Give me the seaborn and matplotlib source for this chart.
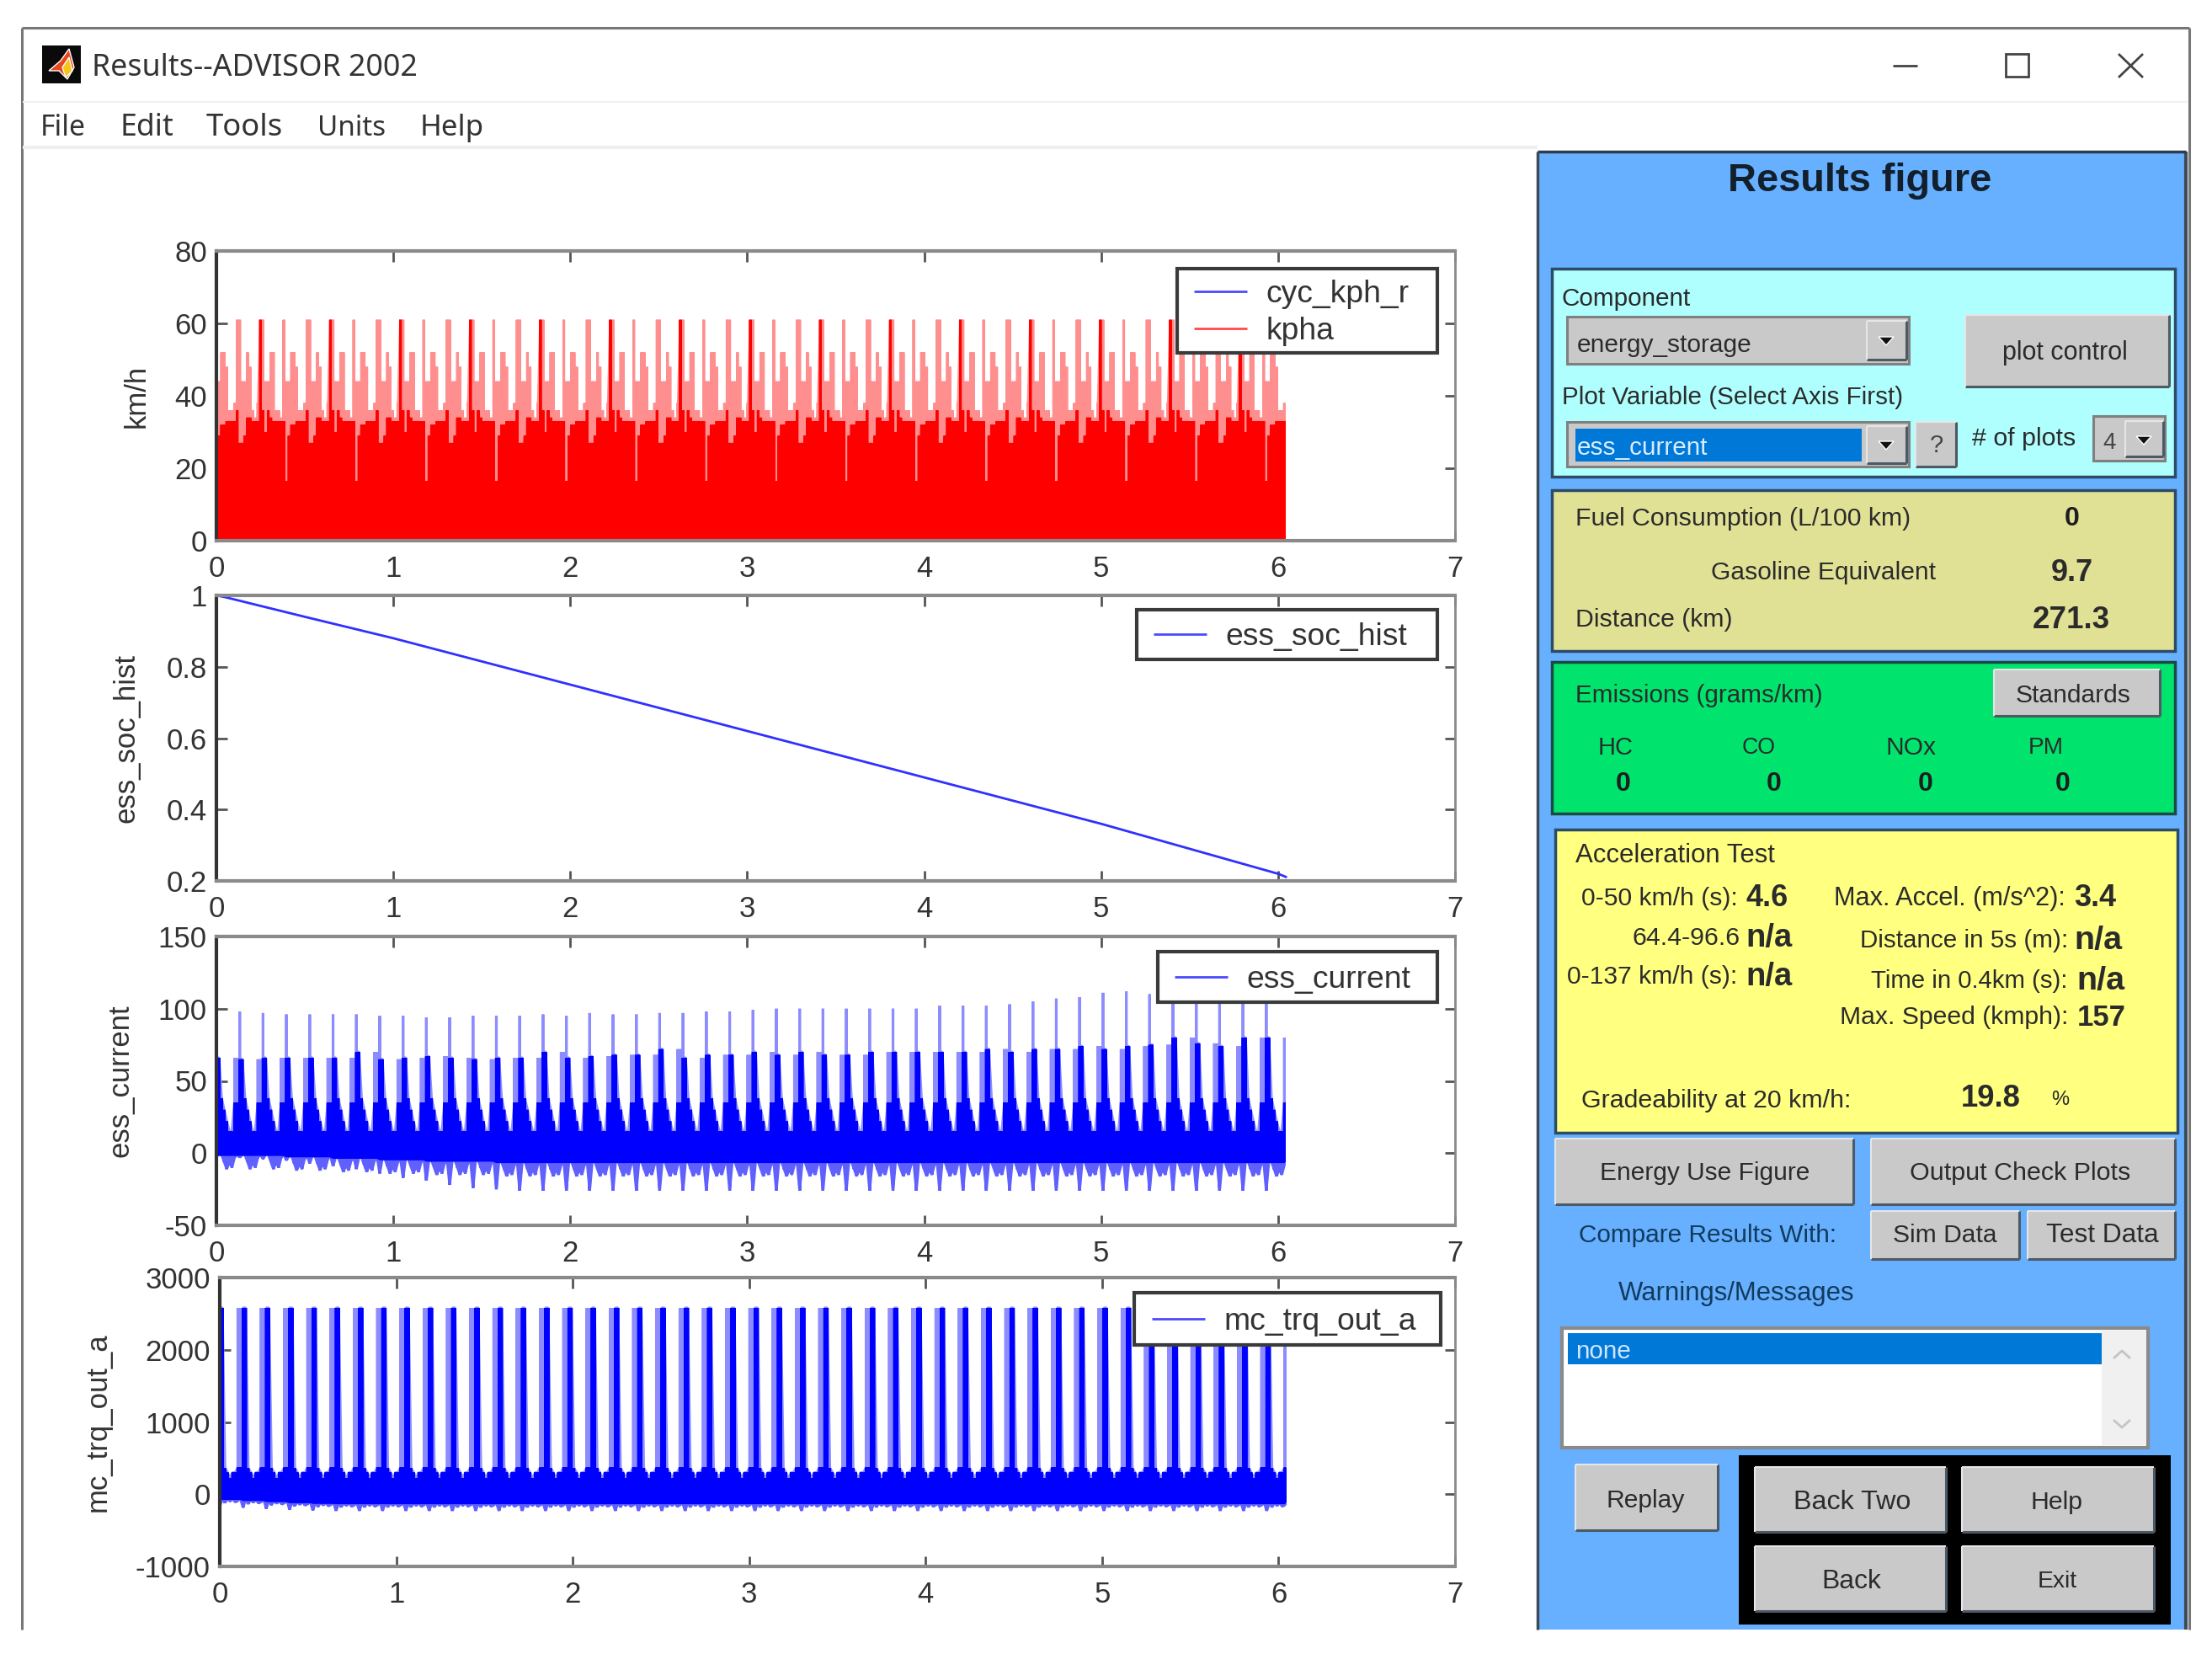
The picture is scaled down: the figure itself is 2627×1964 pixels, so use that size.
import numpy as np
import pandas as pd
import matplotlib
matplotlib.use("Agg")
import matplotlib.pyplot as plt
from matplotlib.patches import Rectangle, Polygon
import seaborn as sns

# ---------- data ----------
x_ticks = [0, 1, 2, 3, 4, 5, 6, 7]
BIN = 0.01465          # width of one drawn sample (hours)
N_BINS = 413           # samples up to the end of the run

# speed: the drive pattern repeats every 27 samples
kph_solid = [16.4, 29, 32, 32, 33, 33, 33, 33, 36,
             27, 27, 29, 34, 34, 33, 33, 33, 61,
             36, 30, 36, 34, 33, 33, 33, 33, 33]
kph_peak = [44, 44, 52, 52, 48, 36, 36, 38, 61,
            61, 44, 44, 52, 48, 36, 34, 38, 61,
            61, 44, 44, 52, 52, 36, 36, 34, 61]

# state of charge
soc_t = [0, 0.05, 0.5, 1, 2, 3, 4, 5, 5.5, 6, 6.05]
soc_v = [1.0, 0.995, 0.94, 0.88, 0.75, 0.62, 0.49, 0.36, 0.29, 0.22, 0.21]

# battery current per cycle (47 cycles of 9 samples)
current_peak = [100, 98, 97, 96, 96, 96, 96, 95, 95, 94, 94, 95, 95, 95, 96, 95,
                97, 96, 96, 97, 97, 98, 98, 99, 100, 100, 100, 100, 100, 100, 100,
                102, 102, 102, 103, 105, 107, 108, 111, 112, 110, 110, 110, 110,
                110, 110, 77]
current_shoulder = [66, 65, 66, 66, 66, 66, 70, 65, 66, 67, 66, 65, 66, 66, 70, 66,
                    67, 68, 68, 72, 66, 68, 68, 70, 68, 70, 68, 68, 70, 70, 70,
                    70, 70, 72, 70, 72, 72, 74, 72, 74, 75, 80, 76, 74, 80, 80, 78]
current_floor = [-1, -1, -1, -2, -2, -3, -3, -4, -4, -5, -5, -5, -6, -6, -6, -6,
                 -6, -6, -6, -6, -6, -6, -6, -6, -6, -6, -6, -6, -6, -6, -6, -6,
                 -6, -6, -6, -6, -6, -6, -6, -6, -6, -6, -6, -6, -6, -6, -6]
current_dip = [-2, -3, -4, -5, -7, -9, -11, -14, -17, -19, -22, -24, -25, -26, -26, -26,
               -26, -26, -26, -26, -26, -26, -26, -26, -26, -26, -26, -26, -26, -26, -26,
               -26, -26, -26, -26, -26, -26, -26, -26, -26, -26, -26, -26, -26, -26, -26, -26]
current_tail = [38, 30, 22, 15, 15]     # samples 2-6 of each cycle
current_side = [35, 35]                 # samples 7-8, solid part
current_side_dip = [0, 0, 0, -5, -10, -5, -9, -2, 0]

# motor torque: 9-sample cycle
trq_solid = [2580, 2580, 360, 300, 220, 300, 300, 370, 370]
trq_light = [2580, 2580, 360, 300, 220, 300, 300, 2580, 2580]
trq_floor = [-60, -75, -90, -105, -115] + [-120] * 42
trq_extra_dip = [-110, 0, -60, 0, -40, 0, -50, -30, 0]

# ---------- panel texts ----------
title_menu = ["File", "Edit", "Tools", "Units", "Help"]
emission_names = ["HC", "CO", "NOx", "PM"]
emission_vals = ["0", "0", "0", "0"]

W, H = 2627, 1964
RED, PINK = "#ff0000", "#ff8f8f"
BLUE, LBLUE = "#0000ff", "#8c8cff"
DIP = "#6060ff"
EDGE = "#3a3a3a"
YSHIFT = 3

sns.set_style("white")
plt.rcParams["font.family"] = ["Liberation Sans", "DejaVu Sans"]
fig = plt.figure(figsize=(W / 100, H / 100), dpi=100, facecolor="white")
renderer = fig.canvas.get_renderer()

# ---------- window chrome (pixel coordinates) ----------
bg = fig.add_axes([0, 0, 1, 1], zorder=0)
bg.set_xlim(0, W)
bg.set_ylim(H, 0)
bg.axis("off")


def rect(x0, y0, x1, y1, fc, ec="none", lw=0, z=1):
    bg.add_patch(Rectangle((x0, y0), x1 - x0, y1 - y0, fc=fc, ec=ec, lw=lw, zorder=z))


def line(xs, ys, c, lw, z=2):
    bg.plot(xs, ys, color=c, lw=lw, zorder=z, solid_capstyle="butt")


def put(x0, x1, y, s, bold=False, color="#2b2b2b", family="Liberation Sans", z=5):
    """Text fitted between two x positions."""
    t = bg.text(x0, y + YSHIFT, s, ha="left", va="center", fontsize=20, color=color,
                family=family, fontweight="bold" if bold else "normal", zorder=z)
    w = t.get_window_extent(renderer).width
    t.set_fontsize(20 * (x1 - x0) / w)
    return t


def mid(cx, y, s, size=21, bold=False, color="#1e1e1e"):
    bg.text(cx, y + YSHIFT, s, ha="center", va="center", fontsize=size, color=color,
            fontweight="bold" if bold else "normal", zorder=5)


def button(x0, y0, x1, y1):
    rect(x0, y0, x1, y1, "#c9c9c9", z=3)
    line([x0, x1], [y1, y1], "#4d5a66", 2.2, z=4)
    line([x1, x1], [y0, y1], "#4d5a66", 2.2, z=4)
    line([x0, x1], [y0, y0], "#e6e6e6", 1.5, z=4)
    line([x0, x0], [y0, y1], "#e6e6e6", 1.5, z=4)


def arrow(cx, cy):
    bg.add_patch(Polygon([(cx - 9, cy - 4), (cx + 9, cy - 4), (cx, cy + 6)], fc="#111111", zorder=6))


# window frame
line([26, 26], [33, 1935], "#777777", 2.2)
line([26, 2600], [33, 33], "#777777", 2.2)
line([2600, 2600], [33, 1935], "#777777", 2.2)
line([27, 2598], [121, 121], "#f1f1f1", 1.5)
line([27, 1826], [175, 175], "#efefef", 3)

# title bar
rect(50, 54, 96, 99, "#0a0a0a")
bg.add_patch(Polygon([(58, 84), (72, 72), (82, 58), (88, 80), (80, 94), (70, 84)], fc="#e8461c", zorder=2))
bg.add_patch(Polygon([(74, 80), (82, 68), (86, 84), (78, 92)], fc="#f5c518", zorder=3))
put(109, 497, 78, "Results--ADVISOR 2002", family="Noto Sans", color="#333333")
for name, x0, x1 in zip(title_menu, [48, 142, 245, 377, 499], [102, 206, 336, 458, 575]):
    put(x0, x1, 149, name, family="Noto Sans", color="#333333")
line([2248, 2277], [78, 78], "#444444", 2)
bg.add_patch(Rectangle((2382, 64), 27, 27, fc="none", ec="#444444", lw=2, zorder=2))
line([2516, 2545], [64, 92], "#444444", 2)
line([2516, 2545], [92, 64], "#444444", 2)

# blue panel
rect(1826, 180, 2596, 1935, "#66b0ff", z=1)
line([1826, 1826], [180, 1935], "#3d4a57", 2.5)
line([2596, 2596], [180, 1935], "#3d4a57", 3)
line([1826, 2596], [180, 180], "#2d3d4d", 2.5)
put(2052, 2365, 212, "Results figure", bold=True, color="#13202c")

# component box
rect(1843, 319, 2583, 566, "#b0ffff", ec="#2d4a66", lw=2.5)
put(1855, 2008, 352, "Component")
rect(1861, 376, 2267, 432, "#c9c9c9", ec="#808080", lw=2.2, z=3)
button(2217, 381, 2264, 427)
arrow(2240, 404)
put(1873, 2080, 407, "energy_storage")
button(2334, 374, 2576, 459)
put(2378, 2527, 416, "plot control")
put(1855, 2260, 469, "Plot Variable (Select Axis First)")
rect(1861, 501, 2267, 554, "#c9c9c9", ec="#808080", lw=2.2, z=3)
rect(1871, 509, 2211, 548, "#0078d7", z=4)
put(1873, 2028, 529, "ess_current", color="#d9ecff")
button(2217, 506, 2264, 550)
arrow(2240, 528)
button(2275, 501, 2323, 554)
mid(2300, 526, "?", 21, color="#444444")
put(2342, 2465, 518, "# of plots")
rect(2486, 494, 2571, 547, "#c9c9c9", ec="#808080", lw=2.2, z=3)
button(2524, 500, 2569, 542)
arrow(2546, 522)
mid(2505, 523, "4", 20, color="#444444")

# fuel box
rect(1843, 582, 2583, 773, "#e1e196", ec="#2d4a66", lw=2.5)
put(1871, 2269, 613, "Fuel Consumption (L/100 km)")
mid(2461, 613, "0", 23, True)
put(2032, 2298, 677, "Gasoline Equivalent")
put(2436, 2486, 677, "9.7", bold=True)
put(1871, 2058, 733, "Distance (km)")
put(2414, 2506, 733, "271.3", bold=True)

# emissions box
rect(1843, 786, 2583, 966, "#00e46e", ec="#1c4a40", lw=2.5)
put(1871, 2164, 823, "Emissions (grams/km)")
button(2368, 795, 2565, 850)
put(2394, 2530, 823, "Standards")
for name, x0, x1, cx, val in zip(emission_names, [1898, 2069, 2240, 2409], [1940, 2109, 2300, 2451],
                                 [1928, 2107, 2287, 2450], emission_vals):
    put(x0, x1, 885, name)
    mid(cx, 928, val, 23, True)

# acceleration box
rect(1847, 985, 2586, 1345, "#ffff80", ec="#2d4a66", lw=2.5)
put(1871, 2107, 1013, "Acceleration Test")
put(1878, 2064, 1064, "0-50 km/h (s):")
put(2073, 2123, 1064, "4.6", bold=True)
put(1938, 2066, 1111, "64.4-96.6")
put(2073, 2128, 1111, "n/a", bold=True)
put(1861, 2063, 1157, "0-137 km/h (s):")
put(2073, 2128, 1157, "n/a", bold=True)
put(2178, 2454, 1064, "Max. Accel. (m/s^2):")
put(2463, 2513, 1064, "3.4", bold=True)
put(2209, 2456, 1114, "Distance in 5s (m):")
put(2463, 2520, 1114, "n/a", bold=True)
put(2222, 2456, 1162, "Time in 0.4km (s):")
put(2466, 2523, 1162, "n/a", bold=True)
put(2185, 2456, 1205, "Max. Speed (kmph):")
put(2467, 2525, 1205, "157", bold=True)
put(1878, 2198, 1304, "Gradeability at 20 km/h:")
put(2329, 2400, 1301, "19.8", bold=True)
put(2436, 2457, 1303, "%")

# lower buttons
button(1847, 1352, 2201, 1430)
put(1900, 2148, 1390, "Energy Use Figure")
button(2222, 1352, 2583, 1430)
put(2268, 2530, 1390, "Output Check Plots")
put(1875, 2180, 1464, "Compare Results With:", color="#123a5c")
button(2222, 1438, 2398, 1495)
put(2248, 2371, 1464, "Sim Data")
button(2408, 1438, 2583, 1495)
put(2430, 2563, 1464, "Test Data")
put(1922, 2202, 1533, "Warnings/Messages", color="#123a5c")

# message list
rect(1855, 1577, 2551, 1719, "white", ec="#8a8a8a", lw=3, z=3)
rect(2496, 1580, 2549, 1716, "#f0f0f0", z=4)
rect(1862, 1583, 2496, 1620, "#0078d7", z=4)
put(1871, 1937, 1602, "none", color="#cfe6ff")
line([2510, 2520, 2530], [1613, 1604, 1613], "#c4c4c4", 2, z=5)
line([2510, 2520, 2530], [1686, 1695, 1686], "#c4c4c4", 2, z=5)

button(1871, 1739, 2040, 1817)
put(1907, 2000, 1779, "Replay")
rect(2065, 1728, 2578, 1929, "#000000", z=2)
button(2084, 1742, 2311, 1819)
put(2130, 2269, 1781, "Back Two")
button(2330, 1742, 2558, 1819)
put(2412, 2474, 1781, "Help")
button(2084, 1836, 2311, 1913)
put(2163, 2234, 1875, "Back")
button(2330, 1836, 2558, 1913)
put(2420, 2467, 1875, "Exit")


# ---------- data panels ----------
def make_axes(x0, y0, x1, y1):
    return fig.add_axes([x0 / W, 1 - y1 / H, (x1 - x0) / W, (y1 - y0) / H], zorder=2)


def bars(t, low, high):
    """Vertical strokes between low and high at every sample."""
    low, high = np.asarray(low, float), np.asarray(high, float)
    return pd.DataFrame({
        "t": np.repeat(t, 3),
        "v": np.column_stack([low, high, low]).ravel(),
    })


def draw(ax, frame, color, lw, label=None):
    sns.lineplot(data=frame, x="t", y="v", ax=ax, color=color, lw=lw, sort=False,
                 estimator=None, errorbar=None, label=label, legend=False,
                 solid_joinstyle="bevel", solid_capstyle="butt")


def style(ax, ymin, ymax, yticks, ylabels, ylabel, label_x, x0, x1):
    ax.set_xlim(0, 7)
    ax.set_ylim(ymin, ymax)
    ax.set_xticks(x_ticks)
    ax.set_xticklabels([str(v) for v in x_ticks])
    ax.set_yticks(yticks)
    ax.set_yticklabels(ylabels)
    ax.tick_params(axis="both", which="major", direction="in", length=9, width=2,
                   color="#555555", top=True, right=True, bottom=True, left=True,
                   labelsize=25, labelcolor="#333333", pad=8)
    ax.tick_params(axis="x", pad=12)
    ax.set_xlabel("")
    ax.set_ylabel(ylabel, fontsize=25, color="#333333")
    ax.yaxis.set_label_coords((label_x + 18 - x0) / (x1 - x0), 0.5)
    for name, sp in ax.spines.items():
        sp.set_visible(True)
        sp.set_linewidth(3 if name != "right" else 2)
        sp.set_color("#333333" if name == "left" else "#8a8a8a")


def add_legend(ax, box, line_x, first_row_y, colors):
    x0, y0, x1, y1 = box
    ax.add_patch(Rectangle((x0 / W, 1 - y1 / H), (x1 - x0) / W, (y1 - y0) / H, transform=fig.transFigure,
                           fc="white", ec="#3a3a3a", lw=3, zorder=9, clip_on=False))
    leg = ax.legend(loc="upper left", bbox_to_anchor=(line_x / W, 1 - first_row_y / H),
                    bbox_transform=fig.transFigure, borderaxespad=0, fontsize=26.8,
                    frameon=False, handlelength=1.7, handletextpad=0.6, labelspacing=0.24,
                    borderpad=0, labelcolor="#333333")
    leg.set_zorder(10)
    for ln, c in zip(leg.get_lines(), colors):
        ln.set_color(c)
        ln.set_linewidth(2)


t = np.arange(N_BINS) * BIN
LW = 2.25

# speed panel
ax1 = make_axes(257, 298, 1728, 642)
k_solid = np.resize(kph_solid, N_BINS)
k_peak = np.resize(kph_peak, N_BINS)
draw(ax1, bars(t, k_solid, k_peak), BLUE, 0.2, "cyc_kph_r")
draw(ax1, bars(t, k_solid, k_peak), PINK, LW)
draw(ax1, bars(t, np.zeros(N_BINS), k_solid), RED, LW, "kpha")
style(ax1, 0, 80, [0, 20, 40, 60, 80], ["0", "20", "40", "60", "80"], "km/h", 161, 257, 1728)
add_legend(ax1, (1398, 319, 1707, 419), 1418, 332, ["#4a4aff", "#ff4a4a"])

# state of charge panel
ax2 = make_axes(257, 707, 1728, 1046)
draw(ax2, pd.DataFrame({"t": soc_t, "v": soc_v}), "#3030ff", 2, "ess_soc_hist")
style(ax2, 0.2, 1, [0.2, 0.4, 0.6, 0.8, 1], ["0.2", "0.4", "0.6", "0.8", "1"], "ess_soc_hist", 149, 257, 1728)
add_legend(ax2, (1350, 724, 1707, 783), 1370, 739, ["#4a4aff"])

# current panel
ax3 = make_axes(257, 1112, 1728, 1455)
cyc = np.minimum(np.arange(N_BINS) // 9, len(current_peak) - 1)
phase = np.arange(N_BINS) % 9
peak = np.array(current_peak, float)[cyc]
shoulder = np.array(current_shoulder, float)[cyc]
floor = np.array(current_floor, float)[cyc]
dip = np.array(current_dip, float)[cyc]
solid_table = np.column_stack([shoulder, shoulder] +
                              [np.full(N_BINS, v) for v in current_tail] +
                              [np.full(N_BINS, v) for v in current_side])
light_table = solid_table.copy()
light_table[:, 0] = peak
light_table[:, 7] = shoulder
light_table[:, 8] = shoulder
c_solid = solid_table[np.arange(N_BINS), phase]
c_light = light_table[np.arange(N_BINS), phase]
c_dip = np.where(phase == 0, dip, floor + np.array(current_side_dip, float)[phase])
draw(ax3, bars(t, c_solid, c_light), LBLUE, LW)
draw(ax3, bars(t, c_dip, floor), DIP, LW)
draw(ax3, bars(t, floor, c_solid), BLUE, LW, "ess_current")
style(ax3, -50, 150, [-50, 0, 50, 100, 150], ["-50", "0", "50", "100", "150"], "ess_current", 141, 257, 1728)
add_legend(ax3, (1375, 1130, 1707, 1190), 1395, 1146, ["#4a4aff"])

# torque panel
ax4 = make_axes(261, 1517, 1728, 1860)
tq_solid = np.resize(trq_solid, N_BINS)
tq_light = np.resize(trq_light, N_BINS)
tq_floor = np.array(trq_floor, float)[cyc]
tq_dip = tq_floor + np.array(trq_extra_dip, float)[phase]
draw(ax4, bars(t, tq_solid, tq_light), LBLUE, LW)
draw(ax4, bars(t, tq_dip, tq_floor), DIP, LW)
draw(ax4, bars(t, tq_floor, tq_solid), BLUE, LW, "mc_trq_out_a")
style(ax4, -1000, 3000, [-1000, 0, 1000, 2000, 3000], ["-1000", "0", "1000", "2000", "3000"],
      "mc_trq_out_a", 115, 261, 1728)
add_legend(ax4, (1347, 1535, 1711, 1597), 1368, 1552, ["#4a4aff"])

fig.savefig("out.png", dpi=100, facecolor="white")
